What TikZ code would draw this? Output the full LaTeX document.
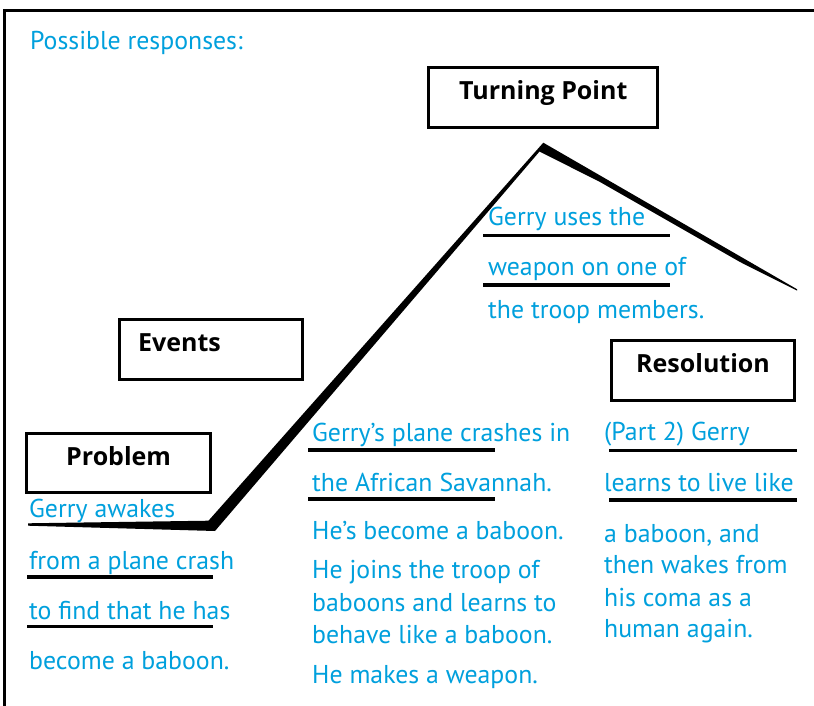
\documentclass[tikz,border=0pt]{standalone}
\usepackage{fontspec}
\newfontfamily\plotfam{PT Sans}
\newfontfamily\headfam{Open Sans}
\definecolor{respblue}{RGB}{0,160,221}
\newcommand\respfont{\plotfam\fontsize{25.8}{30}\selectfont}
\newcommand\headfont{\headfam\bfseries\fontsize{25}{30}\selectfont}
\tikzset{
  resp/.style={anchor=base west, inner sep=0pt, text=respblue, font=\respfont},
  hbox/.style={draw, rectangle, line width=3pt, inner sep=0pt},
  htitle/.style={anchor=base west, inner sep=0pt, font=\headfont},
  uline/.style={line width=3.5pt},
  plotline/.style={fill=black, draw=none},
  frameline/.style={line width=2.7pt},
}
\begin{document}
\begin{tikzpicture}[x=1pt, y=-1pt]
\useasboundingbox (0,0) rectangle (814,706);
\fill[white] (0,0) rectangle (814,706);

% outer frame (top and left edges)
\draw[frameline] (4.7,720) -- (4.7,10.5) -- (830,10.5);

\node[resp] (intro) at (30,49.3) {Possible responses:};

% plot line: tapering stroke drawn as a filled outline
\fill[plotline] (28,523.3) -- (208.5,520.7) -- (543.3,142.7) -- (797,289.2)
  -- (797,290.6) -- (740,262) -- (600,182) -- (539.5,151.5)
  -- (215,531) -- (28,525.7) -- cycle;

% stage boxes
\node[hbox, minimum width=229pt, minimum height=60pt] (tpbox) at (543,97.5) {};
\node[htitle] (tptitle) at (459,99.3) {Turning Point};

\node[hbox, minimum width=183pt, minimum height=60pt] (evbox) at (211,349.5) {};
\node[htitle] (evtitle) at (138,351.7) {Events};

\node[hbox, minimum width=184pt, minimum height=59pt] (prbox) at (118.5,463) {};
\node[htitle] (prtitle) at (66,465.7) {Problem};

\node[hbox, minimum width=183pt, minimum height=60pt] (rsbox) at (703,370.5) {};
\node[htitle] (rstitle) at (636,372.7) {Resolution};

% turning point responses
\node[resp] (tp1) at (488,225) {Gerry uses the};
\node[resp] (tp2) at (488,275) {weapon on one of};
\node[resp] (tp3) at (488,318) {the troop members.};
\draw[uline] (483,235.5) -- (670,235.5);
\draw[uline] (483,285) -- (670,285);

% problem responses
\node[resp] (pr1) at (29,517.7) {Gerry awakes};
\node[resp] (pr2) at (29,569) {from a plane crash};
\node[resp] (pr3) at (29,619.3) {to find that he has};
\node[resp] (pr4) at (29,669.3) {become a baboon.};
\draw[uline] (27,577) -- (213,577);
\draw[uline] (27,626.5) -- (213,626.5);

% event responses
\node[resp] (ev1) at (312,441.7) {Gerry’s plane crashes in};
\node[resp] (ev2) at (312,491.7) {the African Savannah.};
\node[resp] (ev3) at (312,539.3) {He’s become a baboon.};
\node[resp] (ev4) at (312,578.3) {He joins the troop of};
\node[resp] (ev5) at (312,611) {baboons and learns to};
\node[resp] (ev6) at (312,643) {behave like a baboon.};
\node[resp] (ev7) at (312,683) {He makes a weapon.};
\draw[uline] (308,450) -- (495,450);
\draw[uline] (308,499) -- (495,499);

% resolution responses
\node[resp] (rs1) at (604,440) {(Part 2) Gerry};
\node[resp] (rs2) at (604,491) {learns to live like};
\node[resp] (rs3) at (604,542.7) {a baboon, and};
\node[resp] (rs4) at (604,573.5) {then wakes from};
\node[resp] (rs5) at (604,606.7) {his coma as a};
\node[resp] (rs6) at (604,637) {human again.};
\draw[uline] (609,450.5) -- (797,450.5);
\draw[uline] (609,500) -- (797,500);
\end{tikzpicture}
\end{document}
